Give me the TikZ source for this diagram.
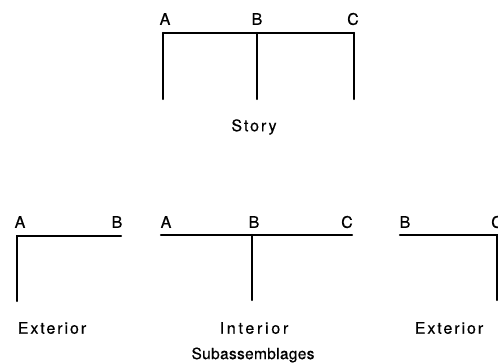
\documentclass[tikz,border=0pt]{standalone}
\usepackage{fontspec}
\setmainfont[LetterSpace=12,FakeBold=0.6]{TeX Gyre Heros}
\begin{document}
\begin{tikzpicture}[x=1pt,y=-1pt,
  member/.style={line width=2.2pt,line cap=round},
  lbl/.style={inner sep=0pt,font=\fontsize{16}{18}\selectfont},
  caption/.style={inner sep=0pt,font=\fontsize{16}{18}\selectfont}]
\useasboundingbox (0,0) rectangle (498,364);
% Story
\coordinate (sa) at (163,33); \coordinate (sb) at (257,33); \coordinate (sc) at (354,33);
\coordinate (sa0) at (163,99); \coordinate (sb0) at (257,99); \coordinate (sc0) at (354,99);
\draw[member] (sa) -- (sc);
\draw[member] (sa) -- (sa0);
\draw[member] (sb) -- (sb0);
\draw[member] (sc) -- (sc0);
\node[lbl] (tA) at (165,19) {A};
\node[lbl] (tB) at (257,19) {B};
\node[lbl] (tC) at (353,19) {C};
\node[caption] (story) at (254,127) {Story};
% Left exterior
\coordinate (la) at (17,236); \coordinate (lb) at (121,236); \coordinate (la0) at (17,301);
\draw[member] (lb) -- (la) -- (la0);
\node[lbl] (lA) at (20,222) {A};
\node[lbl] (lB) at (117,222) {B};
\node[caption] (lext) at (52,328) {Exterior};
% Interior
\coordinate (ia) at (161,235); \coordinate (ib) at (252,235); \coordinate (ic) at (352,235); \coordinate (ib0) at (252,300);
\draw[member] (ia) -- (ic);
\draw[member] (ib) -- (ib0);
\node[lbl] (iA) at (166,222) {A};
\node[lbl] (iB) at (254,222) {B};
\node[lbl] (iC) at (347,222) {C};
\node[caption] (iint) at (254,328) {\addfontfeatures{LetterSpace=17}Interior};
\node[caption] (sub) at (253,355) {\fontsize{15.5}{18}\selectfont\addfontfeatures{LetterSpace=2}Subassemblages};
% Right exterior
\coordinate (rb) at (400,235); \coordinate (rc) at (497,235); \coordinate (rc0) at (497,300);
\draw[member] (rb) -- (rc) -- (rc0);
\node[lbl] (rB) at (405,222) {B};
\node[lbl] (rC) at (497,222) {C};
\node[caption] (rext) at (449,328) {Exterior};
\end{tikzpicture}
\end{document}
